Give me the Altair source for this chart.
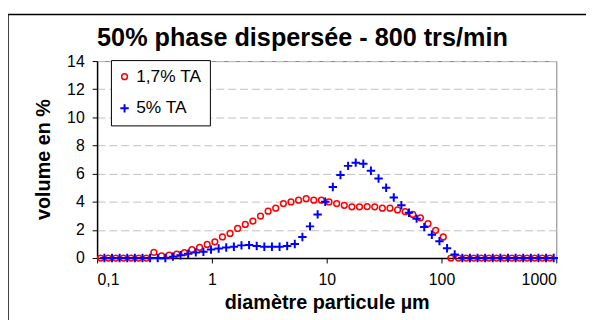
import altair as alt
import pandas as pd

series = ["1,7% TA", "5% TA"]
colors = ["#ff0000", "#0000ff"]
x_ticks = [0.1, 1, 10, 100, 1000]
y_ticks = [0, 2, 4, 6, 8, 10, 12, 14]
title_text = "50% phase dispersée - 800 trs/min"
x_title = "diamètre particule µm"
y_title = "volume en %"

diam_17 = [0.1073, 0.1250, 0.1456, 0.1697, 0.1977, 0.2303, 0.2683, 0.3126, 0.3641, 0.4242,
           0.4942, 0.5758, 0.6708, 0.7815, 0.9104, 1.061, 1.236, 1.440, 1.677, 1.954,
           2.276, 2.652, 3.090, 3.599, 4.194, 4.886, 5.691, 6.630, 7.725, 8.998,
           10.48, 12.21, 14.23, 16.58, 19.31, 22.50, 26.21, 30.53, 35.57, 41.44,
           48.28, 56.23, 65.53, 76.34, 88.93, 103.6, 120.7, 140.6, 163.8, 190.9,
           222.3, 259.0, 301.8, 351.6, 409.6, 477.1, 555.9, 647.6, 754.4, 878.7]
vol_17 = [0, 0, 0, 0, 0, 0, 0, 0.40, 0.15, 0.20,
          0.28, 0.38, 0.60, 0.75, 0.97, 1.15, 1.50, 1.75, 2.10, 2.39,
          2.63, 2.98, 3.33, 3.54, 3.87, 3.99, 4.11, 4.22, 4.11, 4.11,
          3.99, 3.87, 3.75, 3.64, 3.64, 3.66, 3.64, 3.54, 3.54, 3.42,
          3.29, 3.10, 2.86, 2.44, 1.97, 1.50, 0, 0, 0, 0,
          0, 0, 0, 0, 0, 0, 0, 0, 0, 0]

diam_5 = [0.1158, 0.1349, 0.1572, 0.1832, 0.2134, 0.2486, 0.2896, 0.3374, 0.3930, 0.4579,
          0.5334, 0.6215, 0.7241, 0.8436, 0.9827, 1.145, 1.334, 1.554, 1.810, 2.109,
          2.457, 2.863, 3.335, 3.885, 4.527, 5.274, 6.143, 7.157, 8.338, 9.713,
          11.31, 13.18, 15.36, 17.90, 20.84, 24.29, 28.29, 32.95, 38.39, 44.73,
          52.11, 60.70, 70.73, 82.40, 95.99, 111.8, 130.3, 151.8, 176.8, 206.1,
          240.0, 279.6, 325.8, 379.5, 442.1, 515.0, 600.0, 699.0, 814.3, 948.5]
vol_5 = [0, 0, 0, 0, 0, 0, 0, 0, 0, 0.10,
         0.20, 0.30, 0.40, 0.45, 0.60, 0.68, 0.75, 0.80, 0.90, 0.92,
         0.85, 0.80, 0.80, 0.80, 0.85, 1.00, 1.50, 2.25, 3.10, 4.00,
         5.05, 5.90, 6.55, 6.78, 6.70, 6.20, 5.65, 5.00, 4.30, 3.75,
         3.22, 2.80, 2.20, 1.65, 1.20, 0.70, 0.25, 0, 0, 0,
         0, 0, 0, 0, 0, 0, 0, 0, 0, 0]

df = pd.concat([
    pd.DataFrame({"diam": diam_17, "vol": vol_17, "serie": series[0]}),
    pd.DataFrame({"diam": diam_5, "vol": vol_5, "serie": series[1]}),
], ignore_index=True)

W, H = 464, 199
FONT = "Liberation Sans"

points = alt.Chart(df).mark_point(filled=False, clip=False, opacity=1).encode(
    x=alt.X("diam:Q",
            scale=alt.Scale(type="log", domain=[0.1, 1000]),
            axis=alt.Axis(values=x_ticks, grid=False,
                          labelExpr="replace(toString(datum.value), '.', ',')",
                          title=x_title, titleFontSize=20, titleFontWeight="bold",
                          titleX=W / 2, titleY=51, titleBaseline="alphabetic",
                          labelFontSize=16, labelPadding=9, tickSize=5)),
    y=alt.Y("vol:Q",
            scale=alt.Scale(domain=[0, 14]),
            axis=alt.Axis(values=y_ticks, grid=True, gridDash=[8, 4], gridColor="#c0c0c0",
                          title=y_title, titleFontSize=20, titleFontWeight="bold",
                          titleX=-48, titleY=99, titleBaseline="alphabetic",
                          labelFontSize=16, labelPadding=8, tickSize=5)),
    color=alt.Color("serie:N", scale=alt.Scale(domain=series, range=colors),
                    legend=alt.Legend(title=None, orient="none", legendX=14, legendY=-1,
                                      strokeColor="black", fillColor="white", padding=8,
                                      labelFontSize=17.5, labelFont=FONT, rowPadding=13,
                                      symbolSize=30, symbolStrokeWidth=1.5, labelOffset=3,
                                      symbolOffset=-3, symbolOpacity=1)),
    shape=alt.Shape("serie:N", scale=alt.Scale(domain=series,
                                               range=["circle", "M-1,0L1,0M0,-1L0,1"])),
    size=alt.Size("serie:N", scale=alt.Scale(domain=series, range=[34, 72]), legend=None),
    strokeWidth=alt.StrokeWidth("serie:N", scale=alt.Scale(domain=series, range=[1.5, 2]),
                                legend=None),
)

deco_df = pd.DataFrame({"a": [0]})
frame_top = alt.Chart(deco_df).mark_rule(color="black", strokeWidth=1.5).encode(
    x=alt.value(-90), x2=alt.value(W + 40), y=alt.value(-47))
frame_left = alt.Chart(deco_df).mark_rule(color="black", strokeWidth=1.5).encode(
    x=alt.value(-90), y=alt.value(-47), y2=alt.value(H + 70))
title = alt.Chart(deco_df).mark_text(fontSize=25.5, fontWeight="bold", font=FONT,
                                     align="center", baseline="alphabetic").encode(
    x=alt.value(207.5), y=alt.value(-15), text=alt.value(title_text))

chart = alt.layer(points, frame_top, frame_left, title).properties(
    width=W, height=H,
    autosize=alt.AutoSizeParams(type="none"),
    padding={"left": 90, "top": 52, "right": 30, "bottom": 62},
    background="white",
).configure_view(stroke="#808080", strokeWidth=1).configure_axis(
    domainColor="black", domainWidth=1.5, tickColor="black", labelColor="black",
    titleColor="black", labelFont=FONT, titleFont=FONT,
).configure_text(font=FONT)

chart.save("out.html", embed_options={"renderer": "svg", "actions": False})
